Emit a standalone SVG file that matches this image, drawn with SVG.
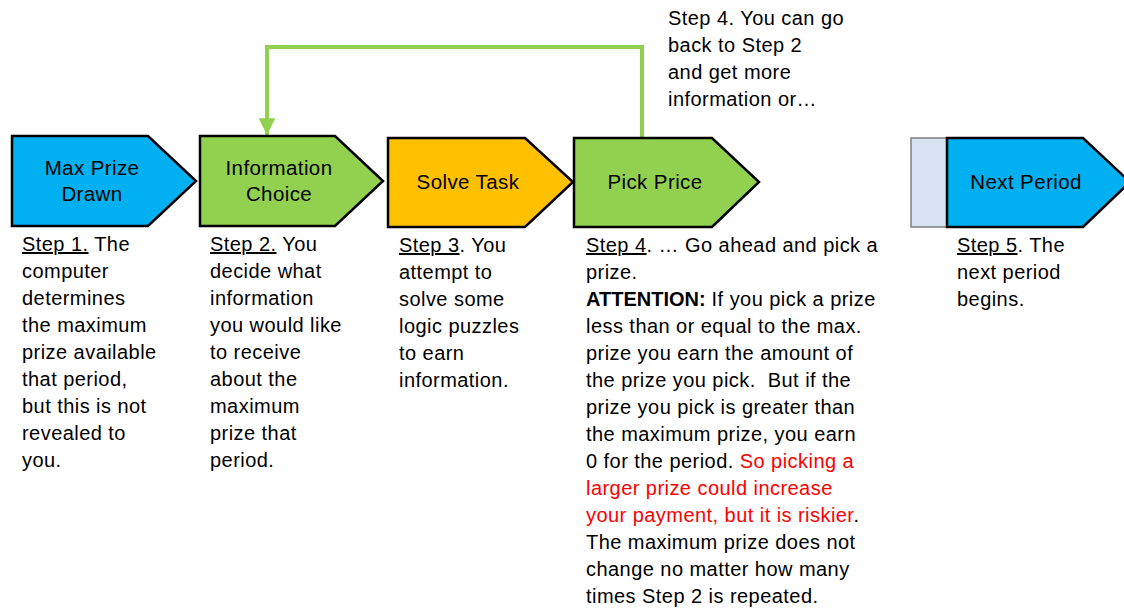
<svg xmlns="http://www.w3.org/2000/svg" width="1124" height="608" viewBox="0 0 1124 608">
<defs>
<style>
.shape{stroke:#000;stroke-width:2.5;stroke-linejoin:miter}
.lbl{font-family:"Liberation Sans",Arial,sans-serif;font-size:20.5px;letter-spacing:0.4px;fill:#000;text-anchor:middle}
.txt{font-family:"Liberation Sans",Arial,sans-serif;font-size:20px;letter-spacing:0.45px;fill:#000}
.u{text-decoration:underline}
.red{fill:#FF0000}
.b{font-weight:bold;letter-spacing:0}
.conn{fill:none;stroke:#92D050;stroke-width:4}
</style>
<marker id="ah" viewBox="0 0 10 10" refX="10" refY="5" markerWidth="4.2" markerHeight="4.2" markerUnits="strokeWidth" orient="auto">
<path d="M0,0 L10,5 L0,10 Z" fill="#92D050"/>
</marker>
</defs>
<rect width="1124" height="608" fill="#fff"/>
<g id="connectors">
<path class="conn" d="M642,137 L642,47 L267,47 L267,135" marker-end="url(#ah)"/>
</g>
<g id="node1">
<path class="shape" fill="#00B0F0" d="M12,136 L148,136 L196,181 L148,226 L12,226 Z"/>
<text class="lbl" x="92" y="175">Max Prize</text>
<text class="lbl" x="92" y="201">Drawn</text>
</g>
<g id="node2">
<path class="shape" fill="#92D050" d="M200,136 L335,136 L383,181 L335,226 L200,226 Z"/>
<text class="lbl" x="279" y="175">Information</text>
<text class="lbl" x="279" y="201">Choice</text>
</g>
<g id="node3">
<path class="shape" fill="#FFC000" d="M388,138 L525,138 L573,182 L525,227 L388,227 Z"/>
<text class="lbl" x="468" y="189">Solve Task</text>
</g>
<g id="node4">
<path class="shape" fill="#92D050" d="M574,138 L712,138 L759,182 L712,227 L574,227 Z"/>
<text class="lbl" x="655" y="189">Pick Price</text>
</g>
<g id="node5">
<rect x="911" y="138" width="36" height="89" fill="#DAE3F3" stroke="#7F7F7F" stroke-width="1.5"/>
<path class="shape" fill="#00B0F0" d="M947,138 L1083,138 L1130,182 L1083,227 L947,227 Z"/>
<text class="lbl" x="1026" y="189">Next Period</text>
</g>
<g id="note-top">
<text class="txt" x="668" y="25">Step 4. You can go</text>
<text class="txt" x="668" y="52">back to Step 2</text>
<text class="txt" x="668" y="79">and get more</text>
<text class="txt" x="668" y="106">information or…</text>
</g>
<g id="desc1">
<text class="txt" x="22" y="251"><tspan class="u">Step 1.</tspan> The</text>
<text class="txt" x="22" y="278">computer</text>
<text class="txt" x="22" y="305">determines</text>
<text class="txt" x="22" y="332">the maximum</text>
<text class="txt" x="22" y="359">prize available</text>
<text class="txt" x="22" y="386">that period,</text>
<text class="txt" x="22" y="413">but this is not</text>
<text class="txt" x="22" y="440">revealed to</text>
<text class="txt" x="22" y="467">you.</text>
</g>
<g id="desc2">
<text class="txt" x="210" y="251"><tspan class="u">Step 2.</tspan> You</text>
<text class="txt" x="210" y="278">decide what</text>
<text class="txt" x="210" y="305">information</text>
<text class="txt" x="210" y="332">you would like</text>
<text class="txt" x="210" y="359">to receive</text>
<text class="txt" x="210" y="386">about the</text>
<text class="txt" x="210" y="413">maximum</text>
<text class="txt" x="210" y="440">prize that</text>
<text class="txt" x="210" y="467">period.</text>
</g>
<g id="desc3">
<text class="txt" x="399" y="252"><tspan class="u">Step 3</tspan>. You</text>
<text class="txt" x="399" y="279">attempt to</text>
<text class="txt" x="399" y="306">solve some</text>
<text class="txt" x="399" y="333">logic puzzles</text>
<text class="txt" x="399" y="360">to earn</text>
<text class="txt" x="399" y="387">information.</text>
</g>
<g id="desc4">
<text class="txt" x="586" y="252"><tspan class="u">Step 4</tspan>. … Go ahead and pick a</text>
<text class="txt" x="586" y="279">prize.</text>
<text class="txt" x="586" y="306"><tspan class="b">ATTENTION:</tspan> If you pick a prize</text>
<text class="txt" x="586" y="333">less than or equal to the max.</text>
<text class="txt" x="586" y="360">prize you earn the amount of</text>
<text class="txt" x="586" y="387" xml:space="preserve">the prize you pick.  But if the</text>
<text class="txt" x="586" y="414">prize you pick is greater than</text>
<text class="txt" x="586" y="441">the maximum prize, you earn</text>
<text class="txt" x="586" y="468">0 for the period. <tspan class="red">So picking a</tspan></text>
<text class="txt red" x="586" y="495">larger prize could increase</text>
<text class="txt" x="586" y="522"><tspan class="red">your payment, but it is riskier</tspan>.</text>
<text class="txt" x="586" y="549">The maximum prize does not</text>
<text class="txt" x="586" y="576">change no matter how many</text>
<text class="txt" x="586" y="603">times Step 2 is repeated.</text>
</g>
<g id="desc5">
<text class="txt" x="957" y="252"><tspan class="u">Step 5</tspan>. The</text>
<text class="txt" x="957" y="279">next period</text>
<text class="txt" x="957" y="306">begins.</text>
</g>
</svg>
